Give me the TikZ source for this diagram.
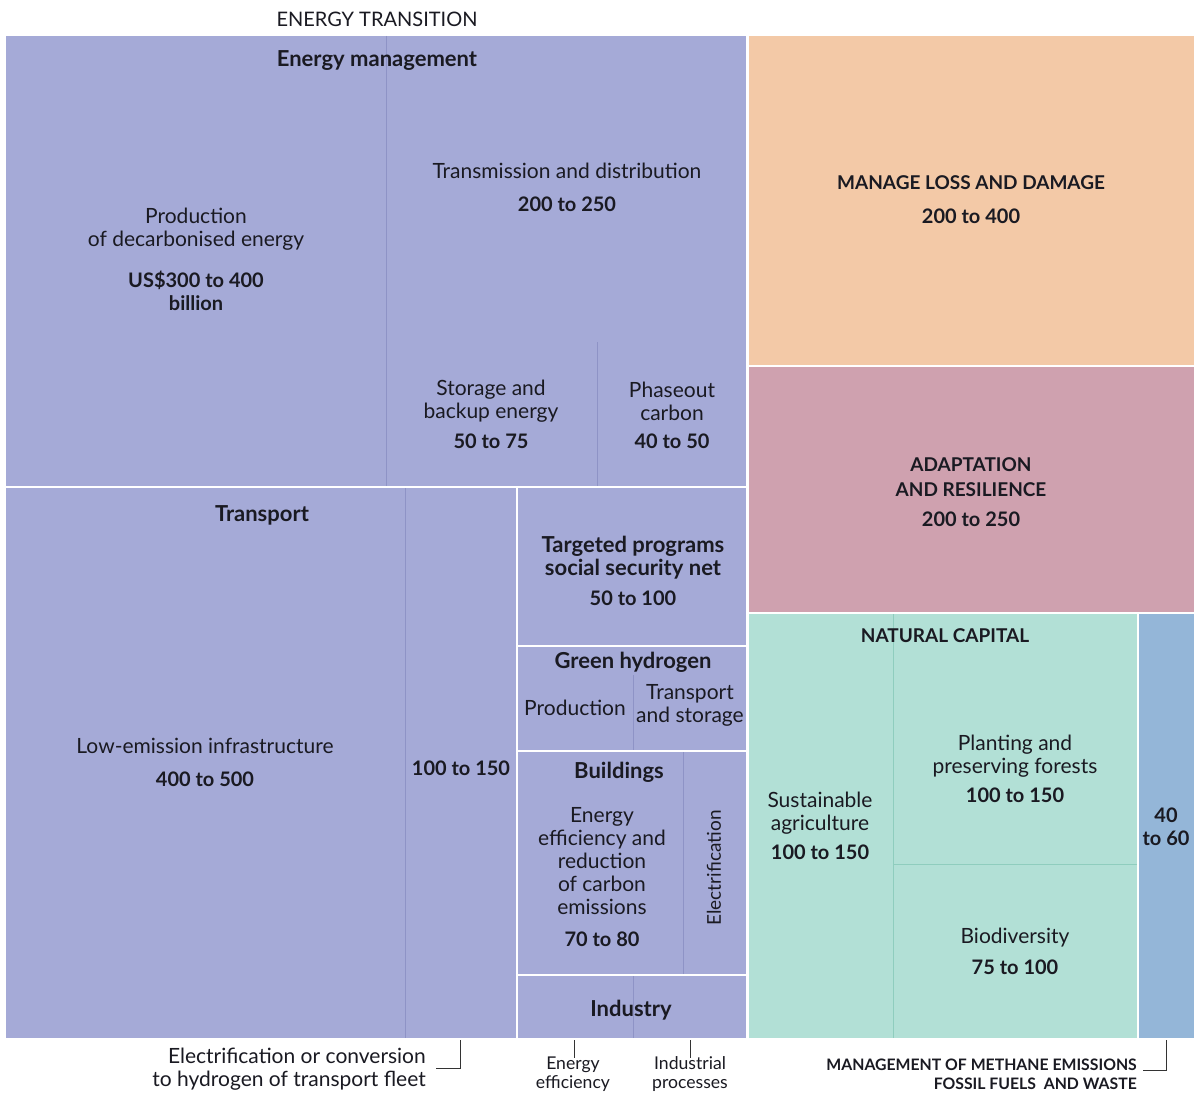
\documentclass[tikz,border=0pt]{standalone}
\usepackage{fontspec}
\setmainfont{Lato}
\definecolor{pur}{HTML}{A5AAD7}
\definecolor{purline}{HTML}{8E93C6}
\definecolor{ora}{HTML}{F3C9A7}
\definecolor{pnk}{HTML}{CFA1AF}
\definecolor{tea}{HTML}{B2E0D6}
\definecolor{tealine}{HTML}{8FCDBE}
\definecolor{blu}{HTML}{94B6D8}
\definecolor{ink}{HTML}{1A1A22}
\begin{document}
\begin{tikzpicture}[x=1pt,y=-1pt,
  every node/.style={align=center, inner sep=0pt, text=ink},
  lbl/.style={font=\fontsize{21}{23}\selectfont},
  num/.style={font=\fontsize{20}{23}\selectfont\bfseries},
  head/.style={font=\fontsize{22}{23}\selectfont\bfseries},
  capsh/.style={font=\fontsize{19}{25}\selectfont\bfseries},
  small/.style={font=\fontsize{17.6}{19}\selectfont},
  caps/.style={font=\fontsize{15.8}{19}\selectfont\bfseries},
  sep/.style={draw=white, line width=2.5pt},
  thinp/.style={draw=purline, line width=0.9pt},
  thint/.style={draw=tealine, line width=0.9pt},
  leader/.style={draw=black!80, line width=0.8pt}]
\useasboundingbox (0,0) rectangle (1195,1094);
\fill[white] (0,0) rectangle (1195,1094);
% blocks
\fill[pur] (6,36) rectangle (747,1038);
\fill[ora] (748,36) rectangle (1194,365);
\fill[pnk] (748,366) rectangle (1194,612);
\fill[tea] (748,613) rectangle (1137,1038);
\fill[blu] (1138,613) rectangle (1194,1038);
% thin inner dividers
\draw[thinp] (386,36) -- (386,486);
\draw[thinp] (597,342) -- (597,486);
\draw[thinp] (405,488) -- (405,1038);
\draw[thinp] (633,675) -- (633,750);
\draw[thinp] (683,752) -- (683,974);
\draw[thinp] (633,976) -- (633,1038);
\draw[thint] (893,614) -- (893,1038);
\draw[thint] (893,864) -- (1137,864);
% white separators
\draw[sep] (6,487) -- (747,487);
\draw[sep] (517,487) -- (517,1038);
\draw[sep] (517,646) -- (747,646);
\draw[sep] (517,751) -- (747,751);
\draw[sep] (517,975) -- (747,975);
\draw[sep] (747.5,36) -- (747.5,1038);
\draw[sep] (748,366) -- (1194,366);
\draw[sep] (748,613) -- (1194,613);
\draw[sep] (1138,613) -- (1138,1038);
% titles
\node[font=\fontsize{20}{23}\selectfont] (title) at (377,19) {ENERGY TRANSITION};
\node[head] (emgmt) at (377,61) {Energy management};
% energy management
\node[lbl] (prod) at (196,229) {Production\\of decarbonised energy};
\node[num] (prodn) at (196,291) {US\$300 to 400\\billion};
\node[lbl] (trans) at (567,171) {Transmission and distribution};
\node[num] (transn) at (567,204) {200 to 250};
\node[lbl] (stor) at (491,401) {Storage and\\backup energy};
\node[num] (storn) at (491,441) {50 to 75};
\node[lbl] (phase) at (672,401) {Phaseout\\carbon};
\node[num] (phasen) at (672,441) {40 to 50};
% transport
\node[head] (transp) at (262,515) {Transport};
\node[lbl] (lowem) at (205,746) {Low-emission infrastructure};
\node[num] (lowemn) at (205,779) {400 to 500};
\node[num] (fleetn) at (461,768) {100 to 150};
% targeted
\node[head] (targ) at (633,558) {Targeted programs\\social security net};
\node[num] (targn) at (633,598) {50 to 100};
% green hydrogen
\node[head] (gh) at (633,662) {Green hydrogen};
\node[lbl] (ghprod) at (575,708) {Production};
\node[lbl] (ghts) at (690,705) {Transport\\and storage};
% buildings
\node[head] (bld) at (619,772) {Buildings};
\node[lbl] (bldee) at (602,861) {Energy\\efficiency and\\reduction\\of carbon\\emissions};
\node[num] (bldn) at (602,939) {70 to 80};
\node[font=\fontsize{19}{23}\selectfont, rotate=90] (bldel) at (714,868) {Electrification};
% industry
\node[head] (ind) at (631,1010) {Industry};
% right side
\node[capsh] (loss) at (971,183) {MANAGE LOSS AND DAMAGE};
\node[num] (lossn) at (971,216) {200 to 400};
\node[capsh] (adapt) at (971,477) {ADAPTATION\\AND RESILIENCE};
\node[num] (adaptn) at (971,519) {200 to 250};
\node[capsh] (natcap) at (945,636) {NATURAL CAPITAL};
\node[lbl] (agri) at (820,813) {Sustainable\\agriculture};
\node[num] (agrin) at (820,852) {100 to 150};
\node[lbl] (forest) at (1015,756) {Planting and\\preserving forests};
\node[num] (forestn) at (1015,795) {100 to 150};
\node[lbl] (bio) at (1015,938) {Biodiversity};
\node[num] (bion) at (1015,967) {75 to 100};
\node[num] (meth) at (1166,827) {40\\to 60};
% bottom labels
\node[lbl, align=right, anchor=east] (fleet) at (426,1069) {Electrification or conversion\\to hydrogen of transport fleet};
\node[small] (ieff) at (573,1074) {Energy\\efficiency};
\node[small] (iproc) at (690,1074) {Industrial\\processes};
\node[caps, align=right, anchor=east] (methlab) at (1137,1074) {MANAGEMENT OF METHANE EMISSIONS\\FOSSIL FUELS\ \ AND WASTE};
% leaders
\coordinate (fleettop) at (460,1040);
\coordinate (iefftop) at (574,1040);
\coordinate (iproctop) at (690,1040);
\coordinate (methtop) at (1166,1040);
\draw[leader] (fleettop) |- ([xshift=10pt,yshift=1pt]fleet.east);
\draw[leader] (iefftop) -- ([yshift=-2pt]iefftop |- ieff.north);
\draw[leader] (iproctop) -- ([yshift=-2pt]iproctop |- iproc.north);
\draw[leader] (methtop) |- ([xshift=6pt,yshift=4pt]methlab.east);
\end{tikzpicture}
\end{document}
